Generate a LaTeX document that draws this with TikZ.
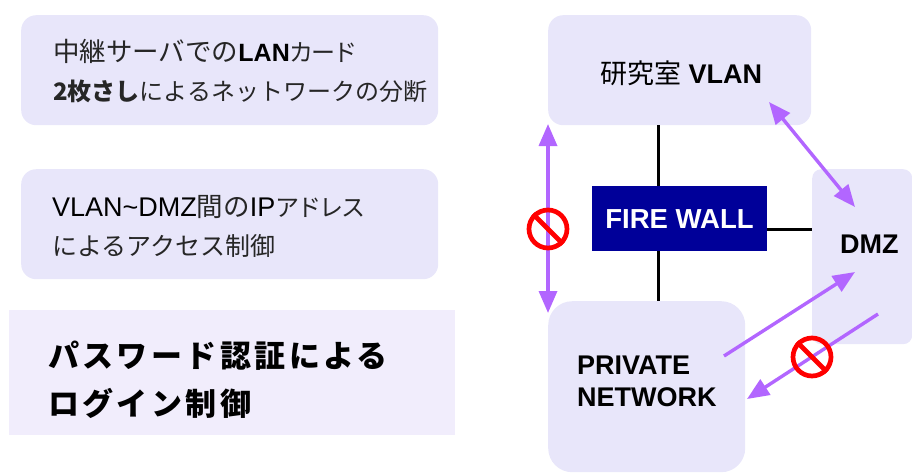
\documentclass[tikz,border=0pt]{standalone}
\usepackage{fontspec}
\setmainfont{Liberation Sans}
\newfontfamily\jp{Noto Sans CJK JP}
\newfontfamily\jpsp[LetterSpace=11]{Noto Sans CJK JP}
\newfontfamily\jpnar[LetterSpace=-8]{Noto Sans CJK JP}
\usetikzlibrary{arrows.meta}
\definecolor{boxfill}{HTML}{E8E6FA}
\definecolor{softfill}{HTML}{F1EDFC}
\definecolor{wallblue}{HTML}{000099}
\definecolor{allow}{HTML}{B266FF}
\definecolor{ban}{HTML}{FF0000}
\newcommand{\szA}{\fontsize{26.5}{39}\selectfont}
\newcommand{\szB}{\fontsize{24}{39}\selectfont}
\newcommand{\narrowkana}[1]{{\jpnar\fontsize{24}{39}\selectfont #1}}
\newcommand{\latinreg}[1]{{\fontspec{Liberation Sans}\color{black}\fontsize{27}{39}\selectfont #1}}
\newcommand{\latinbold}[1]{{\fontspec{Liberation Sans}\bfseries\color{black}\fontsize{25}{39}\selectfont #1}}
\tikzset{
  panel/.style={fill=boxfill,anchor=north west,inner sep=0pt,rounded corners=#1},
  caption/.style={anchor=west,align=left,inner sep=0pt,text=black!85,font=\jp\fontsize{25}{39}\selectfont},
  bigcaption/.style={anchor=west,align=left,inner sep=0pt,font=\jpsp\bfseries\fontsize{31}{48}\selectfont},
  label/.style={inner sep=0pt,anchor=west,align=left,font=\bfseries\fontsize{27}{32}\selectfont},
  wire/.style={line width=3pt,black},
  flow/.style={line width=3.4pt,allow,-{Triangle[length=22pt,width=18pt]}},
  flowboth/.style={line width=3.4pt,allow,{Triangle[length=22pt,width=18pt]}-{Triangle[length=22pt,width=18pt]}},
  forbid/.style={circle,draw=ban,line width=4.7pt,minimum size=38pt,inner sep=0pt}
}
\begin{document}
\begin{tikzpicture}[x=1pt,y=-1pt]
\useasboundingbox (0,0) rectangle (912,472);
% left panels
\node[panel=15pt,minimum width=417pt,minimum height=110pt] (p1) at (21,15) {};
\node[panel=15pt,minimum width=417pt,minimum height=110pt] (p2) at (21,169) {};
\node[fill=softfill,anchor=north west,inner sep=0pt,minimum width=446pt,minimum height=125pt] (p3) at (9,310) {};
\node[caption] (t1) at (53,71.5) {{\szA 中継サーバでの}\latinbold{LAN}\narrowkana{カード}\\{\szB\bfseries 2枚さし}{\szB によるネットワークの分断}};
\node[caption] (t2) at (52,226.5) {\latinreg{VLAN\textasciitilde DMZ}{\szA 間の}\latinreg{IP}\narrowkana{アドレス}\\によるアクセス制御};
\node[bigcaption] (t3) at (48,380) {パスワード認証による\\ログイン制御};
% network panels
\node[panel=15pt,minimum width=263pt,minimum height=110pt] (vlan) at (548,15) {};
\node[panel=9pt,minimum width=100pt,minimum height=175pt] (dmz) at (812,169) {};
\node[panel=24pt,minimum width=197pt,minimum height=171pt] (priv) at (548,301) {};
\node[fill=wallblue,anchor=north west,inner sep=0pt,minimum width=175pt,minimum height=65pt] (fw) at (592,186) {};
\node[inner sep=0pt,text=white,font=\bfseries\fontsize{27.5}{30}\selectfont] (fwt) at (679.5,219) {FIRE WALL};
\node[label] (vlant) at (600,73) {{\jp\mdseries 研究室} VLAN};
\node[label] (dmzt) at (840,244) {DMZ};
\node[label] (privt) at (577,381) {PRIVATE\\NETWORK};
% wires
\draw[wire] ([xshift=-21.5pt]vlan.south) -- ([xshift=-21.5pt]fw.north);
\draw[wire] ([xshift=-21.5pt]fw.south) -- ([xshift=11.5pt]priv.north);
\draw[wire] ([yshift=-10.5pt]fw.east) -- ([yshift=27.5pt]dmz.west);
% flow end points
\coordinate (a1) at (548,124);
\coordinate (a2) at (548,313);
\coordinate (b1) at (769,102);
\coordinate (b2) at (855,207);
\coordinate (c1) at (724,356);
\coordinate (c2) at (855,272);
\coordinate (d1) at (878,314);
\coordinate (d2) at (747,399);
\draw[flowboth] (a1) -- (a2);
\draw[flowboth] (b1) -- (b2);
\draw[flow] (c1) -- (c2);
\draw[flow] (d1) -- (d2);
% prohibition signs
\node[forbid] (s1) at (548,229) {};
\draw[ban,line width=4.7pt] (s1.135) -- (s1.315);
\node[forbid] (s2) at (812,357) {};
\draw[ban,line width=4.7pt] (s2.135) -- (s2.315);
\end{tikzpicture}
\end{document}
